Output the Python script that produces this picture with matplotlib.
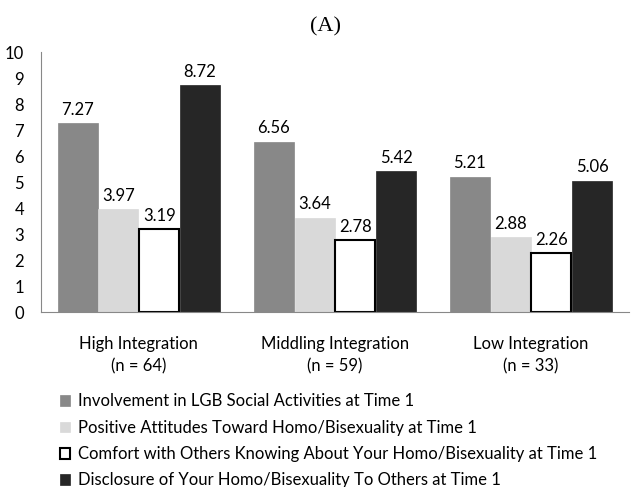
import numpy as np
import matplotlib
matplotlib.use("Agg")
import matplotlib.pyplot as plt

plt.rcParams['font.family'] = ['Lato', 'DejaVu Sans']

# data
groups = ['High Integration\n(n = 64)', 'Middling Integration\n(n = 59)', 'Low Integration\n(n = 33)']
series = ['Involvement in LGB Social Activities at Time 1',
          'Positive Attitudes Toward Homo/Bisexuality at Time 1',
          'Comfort with Others Knowing About Your Homo/Bisexuality at Time 1',
          'Disclosure of Your Homo/Bisexuality To Others at Time 1']
involvement = [7.27, 6.56, 5.21]
attitudes = [3.97, 3.64, 2.88]
comfort = [3.19, 2.78, 2.26]
disclosure = [8.72, 5.42, 5.06]

values = [involvement, attitudes, comfort, disclosure]
colors = ['#888888', '#d9d9d9', '#ffffff', '#262626']
edges = ['#888888', '#d9d9d9', '#000000', '#262626']

fig = plt.figure(figsize=(6.38, 4.87), dpi=100)
ax = fig.add_axes([0.064, 0.359, 0.922, 0.534])

x = np.arange(len(groups))
w = 0.208
handles = []
for i, vals in enumerate(values):
    pos = x + (i - 1.5) * w
    lw = 1.5 if i == 2 else 0.5
    b = ax.bar(pos, vals, w * 0.98, color=colors[i], edgecolor=edges[i], linewidth=lw, label=series[i])
    handles.append(b)
    for px, v in zip(pos, vals):
        ax.text(px, v + 0.2, f'{v:.2f}', ha='center', va='bottom', fontsize=12)

ax.set_xlim(-0.5, 2.5)
ax.set_ylim(0, 10)
ax.set_yticks(range(0, 11))
ax.set_xticks(x)
ax.set_xticklabels(groups, fontsize=12, linespacing=1.5)
ax.tick_params(axis='y', length=0, labelsize=12, pad=12)
ax.tick_params(axis='x', length=0, pad=17)
for s in ['top', 'right']:
    ax.spines[s].set_visible(False)
ax.spines['left'].set_color('#888888')
ax.spines['bottom'].set_color('#888888')

fig.text(0.51, 0.945, '(A)', ha='center', va='center', fontsize=16, family='Liberation Serif')

fig.legend(handles=handles, loc='upper left', bbox_to_anchor=(0.094, 0.192), frameon=False,
           fontsize=12, handlelength=0.6, handleheight=0.6, handletextpad=0.5, labelspacing=0.62,
           borderaxespad=0, borderpad=0)

fig.savefig('out.png', dpi=100)
